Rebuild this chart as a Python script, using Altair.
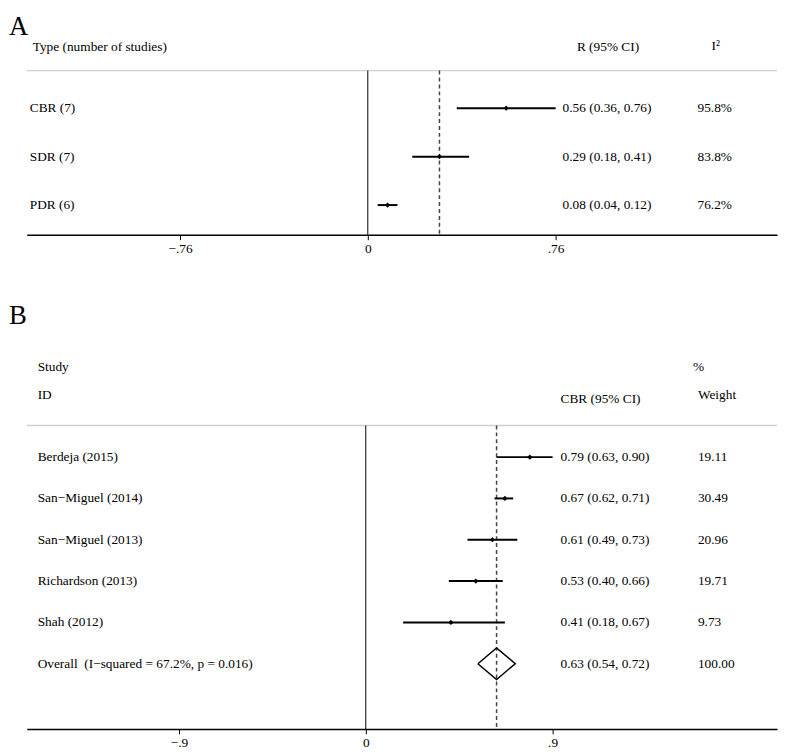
import altair as alt
import pandas as pd

FONT = "Liberation Serif"
FS = 13.5

# ---------------- Panel A data ----------------
types = ["CBR (7)", "SDR (7)", "PDR (6)"]
r_est = [0.56, 0.29, 0.08]
r_lo = [0.36, 0.18, 0.04]
r_hi = [0.76, 0.41, 0.12]
i2 = ["95.8%", "83.8%", "76.2%"]
r_pooled = 0.29
ticks_a = [-0.76, 0, 0.76]
tick_labels_a = ["−.76", "0", ".76"]

# ---------------- Panel B data ----------------
studies = ["Berdeja (2015)", "San−Miguel (2014)", "San−Miguel (2013)",
           "Richardson (2013)", "Shah (2012)"]
cbr_est = [0.79, 0.67, 0.61, 0.53, 0.41]
cbr_lo = [0.63, 0.62, 0.49, 0.40, 0.18]
cbr_hi = [0.90, 0.71, 0.73, 0.66, 0.67]
weights = ["19.11", "30.49", "20.96", "19.71", "9.73"]
overall_label = "Overall\u00a0 (I−squared = 67.2%, p = 0.016)"
overall_est, overall_lo, overall_hi = 0.63, 0.54, 0.72
overall_weight = "100.00"
ticks_b = [-0.9, 0, 0.9]
tick_labels_b = ["−.9", "0", ".9"]


def label_expr(vals, labels):
    e = ""
    for v, l in zip(vals, labels):
        e += f"abs(datum.value - ({v})) < 1e-6 ? '{l}' : "
    return e + "''"


def ci_text(e, l, h):
    return f"{e:.2f} ({l:.2f}, {h:.2f})"


W = 759


def text_layer(df, field, x, y_enc, align="left", size=FS):
    return alt.Chart(df).mark_text(
        align=align, baseline="middle", font=FONT, fontSize=size, color="black"
    ).encode(x=alt.value(x), y=y_enc, text=alt.Text(f"{field}:N"))


def header(txt, x, y, align="left", size=FS):
    return alt.Chart(pd.DataFrame({"t": [txt]})).mark_text(
        align=align, baseline="middle", font=FONT, fontSize=size, color="black"
    ).encode(x=alt.value(x), y=alt.value(y), text="t:N")


def letter(txt, y):
    return alt.Chart(pd.DataFrame({"t": [txt]})).mark_text(
        align="left", baseline="top", font=FONT, fontSize=27, color="black"
    ).encode(x=alt.value(-18), y=alt.value(y), text="t:N")


def panel(labels, est, lo, hi, extra, pooled, ticks, tick_labels, xdom, ydom, H):
    n = len(labels)
    df = pd.DataFrame({
        "row": list(range(1, n + 1)),
        "label": labels,
        "est": est, "lo": lo, "hi": hi,
        "ci": [ci_text(e, l, h) for e, l, h in zip(est, lo, hi)],
        "extra": extra,
    })
    xs = alt.Scale(domain=xdom, nice=False, zero=False)
    ys = alt.Scale(domain=ydom, reverse=True, nice=False, zero=False)
    ax = alt.Axis(values=ticks, labelExpr=label_expr(ticks, tick_labels), title=None,
                  grid=False, tickSize=5, labelFont=FONT, labelFontSize=FS,
                  labelColor="black", tickColor="black", domainColor="black",
                  domainWidth=1.5, tickWidth=1, labelPadding=2)
    yenc = alt.Y("row:Q", scale=ys, axis=None)

    top_line = alt.Chart(pd.DataFrame({"x": [0]})).mark_rule(
        color="#cfcfcf", strokeWidth=1.5
    ).encode(x=alt.value(0), x2=alt.value(W), y=alt.value(0))
    zero_line = alt.Chart(pd.DataFrame({"x": [0]})).mark_rule(
        color="black", strokeWidth=1
    ).encode(x=alt.X("x:Q", scale=xs, axis=ax), y=alt.value(0), y2=alt.value(H))
    dashed = alt.Chart(pd.DataFrame({"x": [pooled]})).mark_rule(
        color="#444444", strokeWidth=1.5, strokeDash=[4, 3]
    ).encode(x=alt.X("x:Q", scale=xs, axis=ax), y=alt.value(0), y2=alt.value(H))
    ci = alt.Chart(df).mark_rule(color="black", strokeWidth=2).encode(
        x=alt.X("lo:Q", scale=xs, axis=ax), x2="hi:Q", y=yenc)
    pts = alt.Chart(df).mark_point(
        shape="diamond", filled=True, size=28, color="black", opacity=1
    ).encode(x=alt.X("est:Q", scale=xs, axis=ax), y=yenc)
    layers = [top_line, zero_line, dashed, ci, pts]
    return df, xs, ys, ax, yenc, layers


# ---------------- Panel A ----------------
HA = 166
dfA, xsA, ysA, axA, yencA, layersA = panel(
    types, r_est, r_lo, r_hi, i2, r_pooled, ticks_a, tick_labels_a,
    [-1.38, 1.656], [0.224, 3.612], HA)
layersA += [
    text_layer(dfA, "label", 3, yencA),
    text_layer(dfA, "ci", 587, yencA, align="center"),
    text_layer(dfA, "extra", 696, yencA, align="center"),
    header("Type (number of studies)", 6, -24),
    header("R (95% CI)", 588, -24, align="center"),
    header("I²", 697, -25, align="center"),
    letter("A", -57),
]
panelA = alt.layer(*layersA).properties(width=W, height=HA)

# ---------------- Panel B ----------------
HB = 307
dfB, xsB, ysB, axB, yencB, layersB = panel(
    studies, cbr_est, cbr_lo, cbr_hi, weights, overall_est, ticks_b, tick_labels_b,
    [-1.633, 1.981], [0.234, 7.579], HB)
orow = len(studies) + 1
half = 0.383
dfD = pd.DataFrame({
    "x": [overall_lo, overall_est, overall_hi, overall_est, overall_lo],
    "y": [orow, orow - half, orow, orow + half, orow],
    "o": [0, 1, 2, 3, 4],
})
diamond = alt.Chart(dfD).mark_line(color="black", strokeWidth=1.5, strokeJoin="miter").encode(
    x=alt.X("x:Q", scale=xsB, axis=axB), y=alt.Y("y:Q", scale=ysB, axis=None), order="o:Q")
dfO = pd.DataFrame({"row": [orow], "label": [overall_label],
                    "ci": [ci_text(overall_est, overall_lo, overall_hi)],
                    "extra": [overall_weight]})
layersB += [
    diamond,
    text_layer(dfB, "label", 11, yencB),
    text_layer(dfB, "ci", 540, yencB),
    text_layer(dfB, "extra", 679, yencB),
    text_layer(dfO, "label", 11, yencB),
    text_layer(dfO, "ci", 540, yencB),
    text_layer(dfO, "extra", 679, yencB),
    header("Study", 11, -59),
    header("ID", 11, -31),
    header("CBR (95% CI)", 540, -27),
    header("%", 674, -59),
    header("Weight", 679, -31),
    letter("B", -124),
]
panelB = alt.layer(*layersB).properties(width=W, height=HB)

chart = alt.vconcat(panelA, panelB, spacing=46).properties(
    padding=0, background="white"
).configure_view(stroke="transparent")

chart.save("out.html", embed_options={"renderer": "svg", "actions": False})
